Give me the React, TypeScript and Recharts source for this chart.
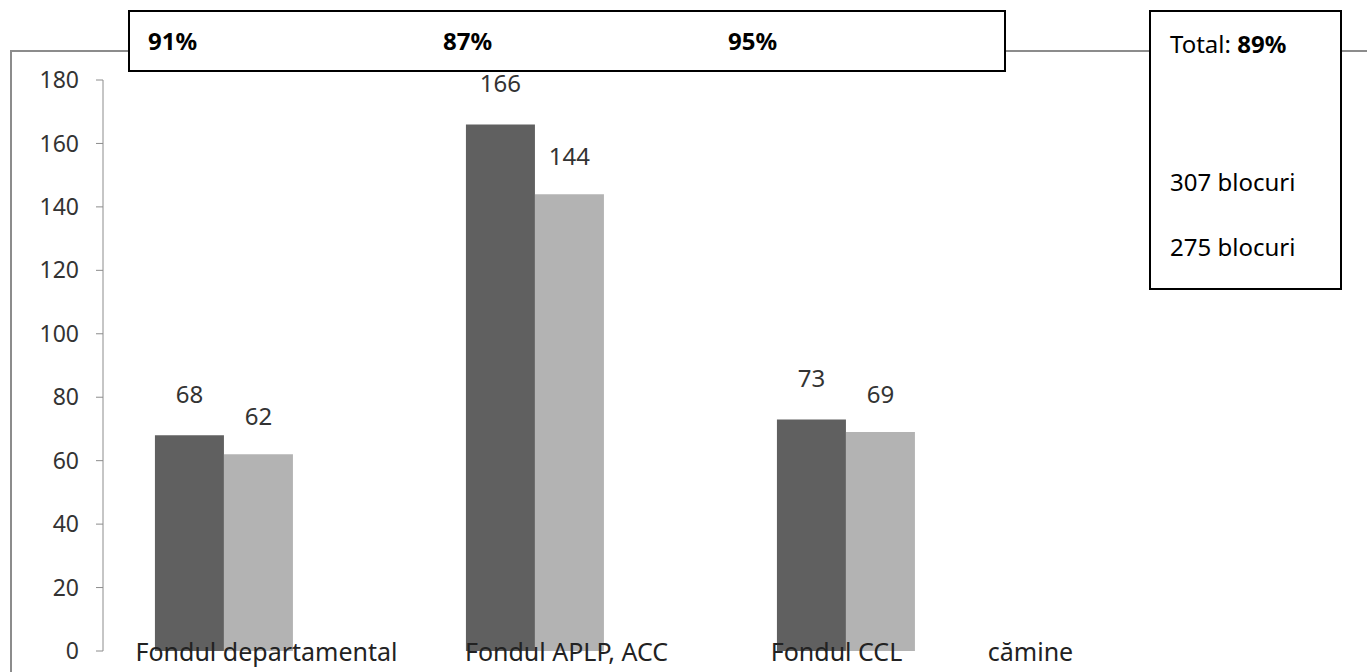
import React from "react";
import { BarChart, Bar, XAxis, YAxis, LabelList } from "recharts";

// categorii si valori (blocuri)
const categories = ["Fondul departamental", "Fondul APLP, ACC", "Fondul CCL"];
const totalBlocuri = [68, 166, 73];
const blocuriRealizate = [62, 144, 69];

const yTicks = [0, 20, 40, 60, 80, 100, 120, 140, 160, 180];
const ratioLabels = ["91%", "87%", "95%"];
const totalLabel = "89%";
const blocuriLabels = ["307 blocuri", "275 blocuri"];
const extraLabel = "cămine";

const data = categories.map((name, i) => ({
  name,
  total: totalBlocuri[i],
  realizat: blocuriRealizate[i],
}));

const FONT = "'Noto Sans', sans-serif";
const AXIS_GREY = "#8c8c8c";

// small horizontal shifts so the category texts sit like in the original
const labelShift = [8, -3, -44];
const extraShift = 150;
const ratioLeft = [148, 443, 728];

function CategoryTick(props: any) {
  const { x, y, payload, index } = props;
  return (
    <g>
      <text
        x={x + labelShift[index]}
        y={y}
        dy={10}
        textAnchor="middle"
        fontSize={25}
        fontFamily={FONT}
        fill="#222"
      >
        {payload.value}
      </text>
      {index === categories.length - 1 && (
        <text
          x={x + extraShift}
          y={y}
          dy={10}
          textAnchor="middle"
          fontSize={25}
          fontFamily={FONT}
          fill="#222"
        >
          {extraLabel}
        </text>
      )}
    </g>
  );
}

export default function App() {
  return (
    <div
      style={{
        position: "fixed",
        left: 0,
        top: 0,
        width: 1367,
        height: 672,
        overflow: "hidden",
        background: "#fff",
        fontFamily: FONT,
      }}
    >
      {/* chart area frame, runs off the page on the right and bottom */}
      <div
        style={{
          position: "absolute",
          left: 10,
          top: 50,
          width: 1500,
          height: 800,
          borderLeft: `2px solid ${AXIS_GREY}`,
          borderTop: `2px solid ${AXIS_GREY}`,
        }}
      />

      <div style={{ position: "absolute", left: 0, top: 0 }}>
        <BarChart
          width={1367}
          height={672}
          data={data}
          margin={{ top: 80, right: 331, bottom: 0, left: 0 }}
          barCategoryGap="16.7%"
          barGap={0}
        >
          <YAxis
            width={103}
            domain={[0, 180]}
            ticks={yTicks}
            interval={0}
            tickSize={7}
            tickMargin={17}
            axisLine={{ stroke: AXIS_GREY }}
            tickLine={{ stroke: AXIS_GREY }}
            tick={{ fontSize: 23, fontFamily: FONT, fill: "#333" }}
          />
          <XAxis
            dataKey="name"
            height={21}
            interval={0}
            axisLine={false}
            tickLine={false}
            tickSize={0}
            tickMargin={0}
            tick={<CategoryTick />}
          />
          <Bar dataKey="total" fill="#606060" isAnimationActive={false}>
            <LabelList
              dataKey="total"
              position="top"
              offset={32}
              fill="#333"
              fontSize={24}
              fontFamily={FONT}
            />
          </Bar>
          <Bar dataKey="realizat" fill="#b3b3b3" isAnimationActive={false}>
            <LabelList
              dataKey="realizat"
              position="top"
              offset={29}
              fill="#333"
              fontSize={24}
              fontFamily={FONT}
            />
          </Bar>
          {/* empty third series slot, keeps the bars left in each group */}
          <Bar dataKey="rezerva" fill="#fff" isAnimationActive={false} legendType="none" />
        </BarChart>
      </div>

      {/* percentage box */}
      <div
        style={{
          position: "absolute",
          left: 128,
          top: 10,
          width: 874,
          height: 58,
          border: "2px solid #000",
          background: "#fff",
        }}
      />
      {ratioLabels.map((t, i) => (
        <div
          key={t}
          style={{
            position: "absolute",
            left: ratioLeft[i],
            top: 24,
            fontSize: 24,
            fontWeight: 700,
            lineHeight: "34px",
            color: "#000",
          }}
        >
          {t}
        </div>
      ))}

      {/* total box */}
      <div
        style={{
          position: "absolute",
          left: 1149,
          top: 10,
          width: 189,
          height: 276,
          border: "2px solid #000",
          background: "#fff",
          fontSize: 24,
          color: "#000",
        }}
      >
        <div style={{ position: "absolute", left: 19, top: 15, lineHeight: "34px" }}>
          Total: <b>{totalLabel}</b>
        </div>
        <div style={{ position: "absolute", left: 19, top: 153, lineHeight: "34px" }}>
          {blocuriLabels[0]}
        </div>
        <div style={{ position: "absolute", left: 19, top: 218, lineHeight: "34px" }}>
          {blocuriLabels[1]}
        </div>
      </div>
    </div>
  );
}
